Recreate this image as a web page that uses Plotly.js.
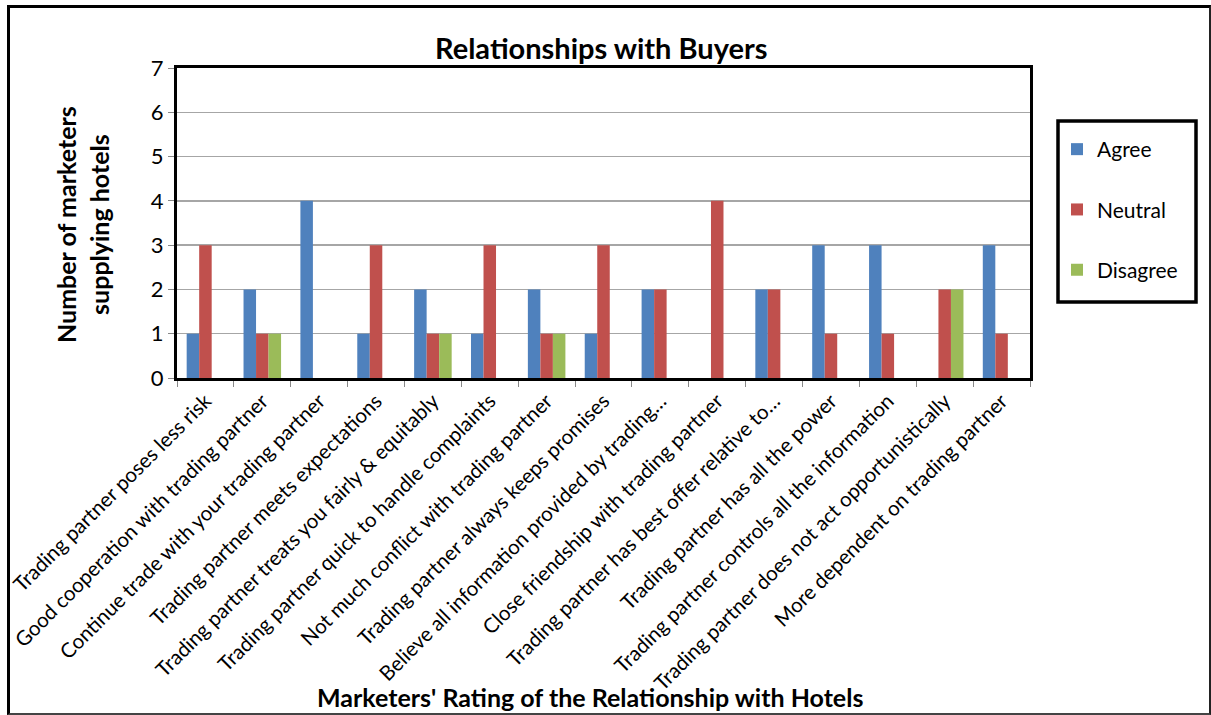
<!DOCTYPE html>
<html>
<head>
<meta charset="utf-8">
<script src="https://cdn.plot.ly/plotly-3.0.1.min.js"></script>
<style>
  html, body { margin: 0; padding: 0; background: #fff; }
  #wrap { position: relative; width: 1211px; height: 715px; }
  #chart { width: 1211px; height: 715px; }
  #frame { position: absolute; left: 7px; top: 5px; width: 1199px; height: 705px;
           border-left: 3px solid #000; border-top: 3px solid #000;
           border-right: 2px solid #222; border-bottom: 2px solid #444; pointer-events: none; }
</style>
</head>
<body>
<div id="wrap">
  <div id="chart"></div>
  <div id="frame"></div>
</div>
<script>
const categories = [
  "Trading partner poses less risk",
  "Good cooperation with trading partner",
  "Continue trade with your trading partner",
  "Trading partner meets expectations",
  "Trading partner treats you fairly & equitably",
  "Trading partner quick to handle complaints",
  "Not much conflict with trading partner",
  "Trading partner always keeps promises",
  "Believe all information provided by trading…",
  "Close friendship with trading partner",
  "Trading partner has best offer relative to…",
  "Trading partner has all the power",
  "Trading partner controls all the information",
  "Trading partner does not act opportunistically",
  "More dependent on trading partner"
];
const agree    = [1, 2, 4, 1, 2, 1, 2, 1, 2, 0, 2, 3, 3, 0, 3];
const neutral  = [3, 1, 0, 3, 1, 3, 1, 3, 2, 4, 2, 1, 1, 2, 1];
const disagree = [0, 1, 0, 0, 1, 0, 1, 0, 0, 0, 0, 0, 0, 2, 0];
const seriesNames = ["Agree", "Neutral", "Disagree"];
const yTicks = [0, 1, 2, 3, 4, 5, 6, 7];

const font = "Lato, 'Open Sans', sans-serif";
const colors = ["#4F81BD", "#C0504D", "#9BBB59"];
const data = [agree, neutral, disagree].map((vals, i) => ({
  type: "bar",
  name: seriesNames[i],
  x: categories,
  y: vals,
  marker: { color: colors[i], line: { width: 0 } },
  legendgroup: "g" + i
}));

const px = v => (v - 177) / 853;
const py = v => (378 - v) / 310;

const layout = {
  width: 1211, height: 715,
  margin: { l: 177, r: 181, t: 68, b: 337 },
  paper_bgcolor: "#fff", plot_bgcolor: "#fff",
  font: { family: font, color: "#000" },
  barmode: "group",
  bargap: 0.34, bargroupgap: 0,
  xaxis: {
    type: "category",
    tickangle: -45,
    tickfont: { size: 20.5, family: font, color: "#000" },
    ticks: "outside", ticklen: 6, tickcolor: "#888", tickwidth: 1,
    tickson: "boundaries",
    showline: true, linecolor: "#000", linewidth: 3, mirror: true,
    showgrid: false,
    automargin: false
  },
  yaxis: {
    range: [0, 7],
    tickvals: yTicks,
    tickfont: { size: 22, family: font, color: "#000" },
    ticks: "outside", ticklen: 6, tickcolor: "#888", tickwidth: 1,
    showline: true, linecolor: "#000", linewidth: 3, mirror: true,
    showgrid: true, gridcolor: "#a6a6a6", gridwidth: 1.3,
    zeroline: false,
    automargin: false
  },
  shapes: [
    { type: "rect", xref: "paper", yref: "paper",
      x0: px(1058), x1: px(1196), y0: py(302), y1: py(121),
      line: { color: "#000", width: 3.5 }, fillcolor: "rgba(0,0,0,0)" }
  ],
  annotations: [
    { text: "<b>Relationships with Buyers</b>", xref: "paper", yref: "paper",
      x: 0.4975, y: py(47), xanchor: "center", yanchor: "middle",
      showarrow: false, font: { size: 29, family: font, color: "#000" } },
    { text: "<b>Marketers' Rating of the Relationship with Hotels</b>", xref: "paper", yref: "paper",
      x: px(590), y: py(697), xanchor: "center", yanchor: "middle",
      showarrow: false, font: { size: 25, family: font, color: "#000" } },
    { text: "<b>Number of marketers<br>supplying hotels</b>", xref: "paper", yref: "paper",
      x: px(82), y: py(225), xanchor: "center", yanchor: "middle",
      textangle: -90, showarrow: false, font: { size: 25, family: font, color: "#000" } }
  ],
  legend: {
    x: px(1057), xanchor: "left", y: py(129), yanchor: "top",
    bgcolor: "rgba(0,0,0,0)", borderwidth: 0,
    font: { size: 21, family: font, color: "#000" },
    traceorder: "grouped", tracegroupgap: 30,
    itemwidth: 30
  },
  showlegend: true
};

Plotly.newPlot("chart", data, layout, { displayModeBar: false, staticPlot: true });
</script>
</body>
</html>
